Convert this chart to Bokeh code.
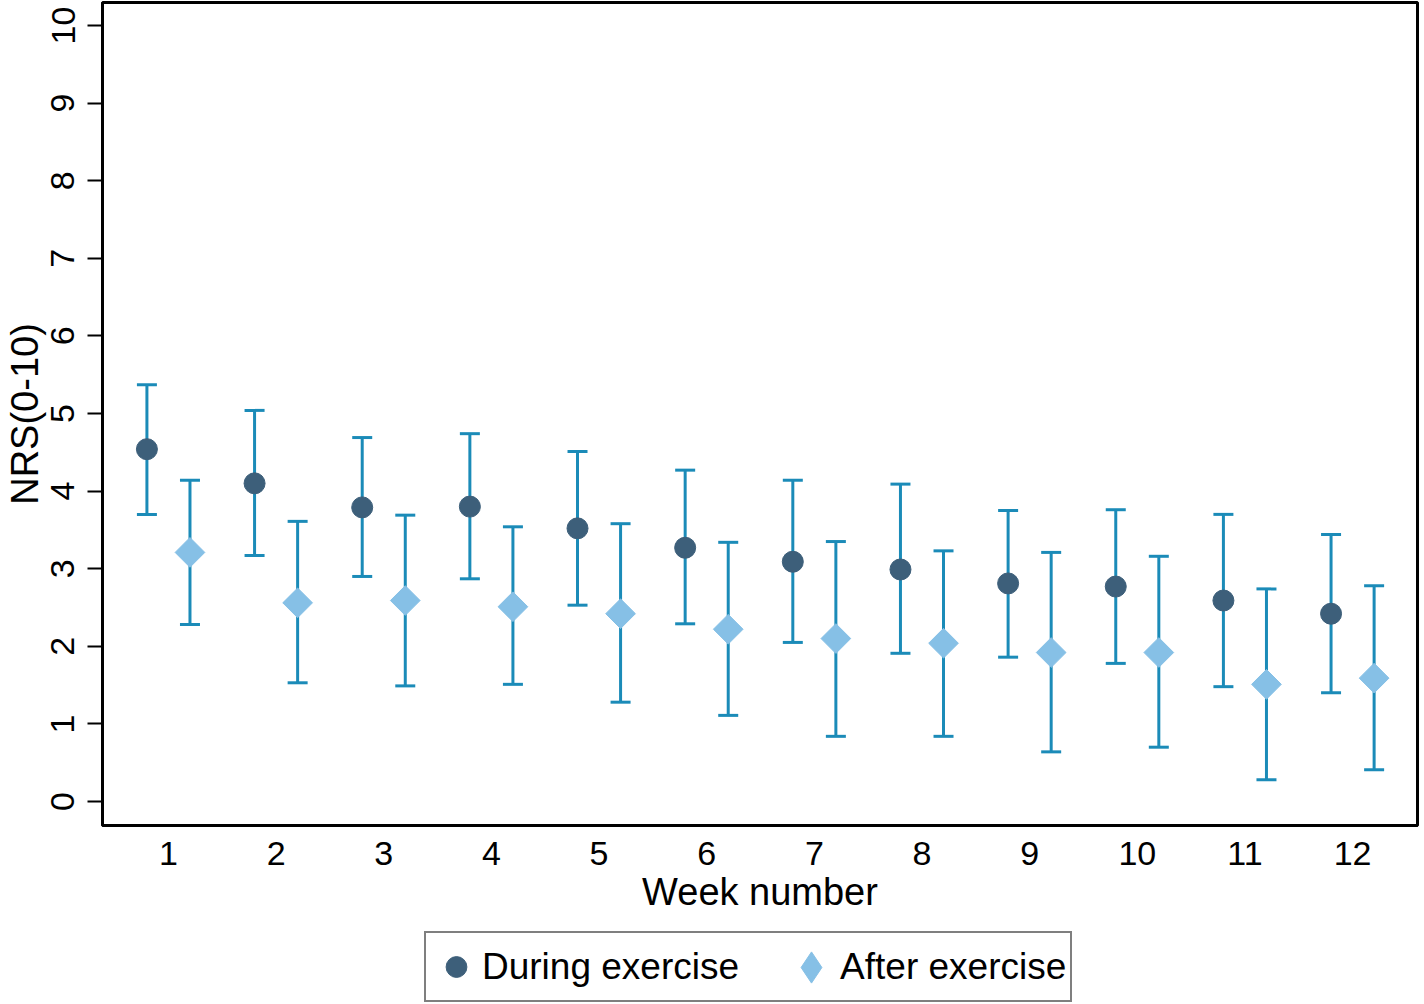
import numpy as np
from bokeh.plotting import figure
from bokeh.layouts import column
from bokeh.models import (Range1d, FixedTicker, ColumnDataSource, Whisker, TeeHead,
                          Legend, LegendItem)
from bokeh.embed import file_html
from bokeh.resources import INLINE

weeks = [1, 2, 3, 4, 5, 6, 7, 8, 9, 10, 11, 12]
during_mean = [4.54, 4.10, 3.79, 3.80, 3.52, 3.27, 3.09, 2.99, 2.81, 2.77, 2.59, 2.42]
during_upper = [5.37, 5.04, 4.69, 4.74, 4.51, 4.27, 4.14, 4.09, 3.75, 3.76, 3.70, 3.44]
during_lower = [3.70, 3.17, 2.90, 2.87, 2.53, 2.29, 2.05, 1.91, 1.86, 1.78, 1.48, 1.40]
after_mean = [3.21, 2.56, 2.59, 2.51, 2.42, 2.22, 2.10, 2.04, 1.92, 1.92, 1.51, 1.59]
after_upper = [4.14, 3.61, 3.69, 3.54, 3.58, 3.34, 3.35, 3.23, 3.21, 3.16, 2.74, 2.78]
after_lower = [2.28, 1.53, 1.49, 1.51, 1.28, 1.11, 0.84, 0.84, 0.64, 0.70, 0.28, 0.41]
y_ticks = [0, 1, 2, 3, 4, 5, 6, 7, 8, 9, 10]
series_labels = ["During exercise", "After exercise"]

OFFSET = 0.2
FONT = "Liberation Sans"
BAR_COLOR = "#1b8bb8"
DOT_COLOR = "#3d5f7a"
DIA_COLOR = "#86c0e6"

w = np.array(weeks, dtype=float)
src_d = ColumnDataSource(dict(x=w - OFFSET, y=during_mean, lo=during_lower, hi=during_upper))
src_a = ColumnDataSource(dict(x=w + OFFSET, y=after_mean, lo=after_lower, hi=after_upper))

p = figure(width=1420, height=915, output_backend="svg", toolbar_location=None,
           x_range=Range1d(0.3874, 12.603), y_range=Range1d(-0.309, 10.296),
           min_border_left=101, min_border_right=3, min_border_top=2, min_border_bottom=90)

p.grid.visible = False
p.outline_line_color = "black"
p.outline_line_width = 3

for src in (src_d, src_a):
    wh = Whisker(source=src, base="x", upper="hi", lower="lo", dimension="height",
                 line_color=BAR_COLOR, line_width=3,
                 upper_head=TeeHead(size=20, line_color=BAR_COLOR, line_width=3),
                 lower_head=TeeHead(size=20, line_color=BAR_COLOR, line_width=3))
    p.add_layout(wh)

p.scatter("x", "y", source=src_d, marker="circle", size=21,
          fill_color=DOT_COLOR, line_color=DOT_COLOR)
p.scatter("x", "y", source=src_a, marker="square", size=21, angle=np.pi / 4,
          fill_color=DIA_COLOR, line_color=DIA_COLOR)

p.xaxis.ticker = FixedTicker(ticks=weeks)
p.yaxis.ticker = FixedTicker(ticks=y_ticks)
p.xaxis.axis_label = "Week number"
p.yaxis.axis_label = "NRS(0-10)"
p.yaxis.major_label_orientation = "vertical"
for ax in (p.xaxis[0], p.yaxis[0]):
    ax.axis_line_color = "black"
    ax.axis_line_width = 3
    ax.major_tick_line_color = "black"
    ax.major_tick_line_width = 2
    ax.major_tick_out = 15
    ax.major_tick_in = 0
    ax.minor_tick_out = 0
    ax.minor_tick_in = 0
    ax.major_label_text_font = FONT
    ax.major_label_text_font_size = "34px"
    ax.major_label_text_color = "black"
    ax.axis_label_text_font = FONT
    ax.axis_label_text_font_size = "38px"
    ax.axis_label_text_font_style = "normal"
    ax.axis_label_text_color = "black"
p.xaxis.major_tick_out = 0
p.xaxis.major_label_standoff = 16
p.xaxis.axis_label_standoff = 3
p.yaxis.major_label_standoff = 13
p.yaxis.axis_label_standoff = 3

# legend strip below the chart; its renderers use the real data, which lies
# outside this strip's ranges, so only the legend entries are visible
lg = figure(width=1420, height=89, output_backend="svg", toolbar_location=None,
            x_range=Range1d(0, 1), y_range=Range1d(-1, 0),
            x_axis_location=None, y_axis_location=None,
            min_border_left=0, min_border_right=0, min_border_top=0, min_border_bottom=0)
lg.grid.visible = False
lg.outline_line_color = None
r_d_leg = lg.scatter("x", "y", source=src_d, marker="circle", size=21,
                     fill_color=DOT_COLOR, line_color=DOT_COLOR)
r_a_slot = lg.scatter("x", "y", source=src_a, marker="diamond", size=21,
                      fill_alpha=0, line_alpha=0)
r_a_leg = lg.scatter("x", "y", source=src_a, marker="diamond", size=30,
                     fill_color=DIA_COLOR, line_color=DIA_COLOR)

legend = Legend(items=[LegendItem(label=series_labels[0], renderers=[r_d_leg]),
                       LegendItem(label=series_labels[1], renderers=[r_a_slot])],
                orientation="horizontal", location=(322, 2),
                label_text_font=FONT, label_text_font_size="37px",
                label_text_color="black",
                label_standoff=0, glyph_width=52, glyph_height=59, spacing=49,
                padding=4, margin=0,
                border_line_color="black", border_line_width=2,
                background_fill_color="white")
lg.add_layout(legend, "center")

# larger diamond symbol laid over the second legend entry's glyph slot
legend_marker = Legend(items=[LegendItem(label="", renderers=[r_a_leg])],
                       orientation="horizontal", location=(670, -2),
                       label_standoff=0, glyph_width=78, glyph_height=78,
                       padding=0, margin=0, spacing=0,
                       border_line_color=None, background_fill_alpha=0)
lg.add_layout(legend_marker, "center")

page = column(p, lg, spacing=0)
open("out.html", "w").write(file_html(page, INLINE))
